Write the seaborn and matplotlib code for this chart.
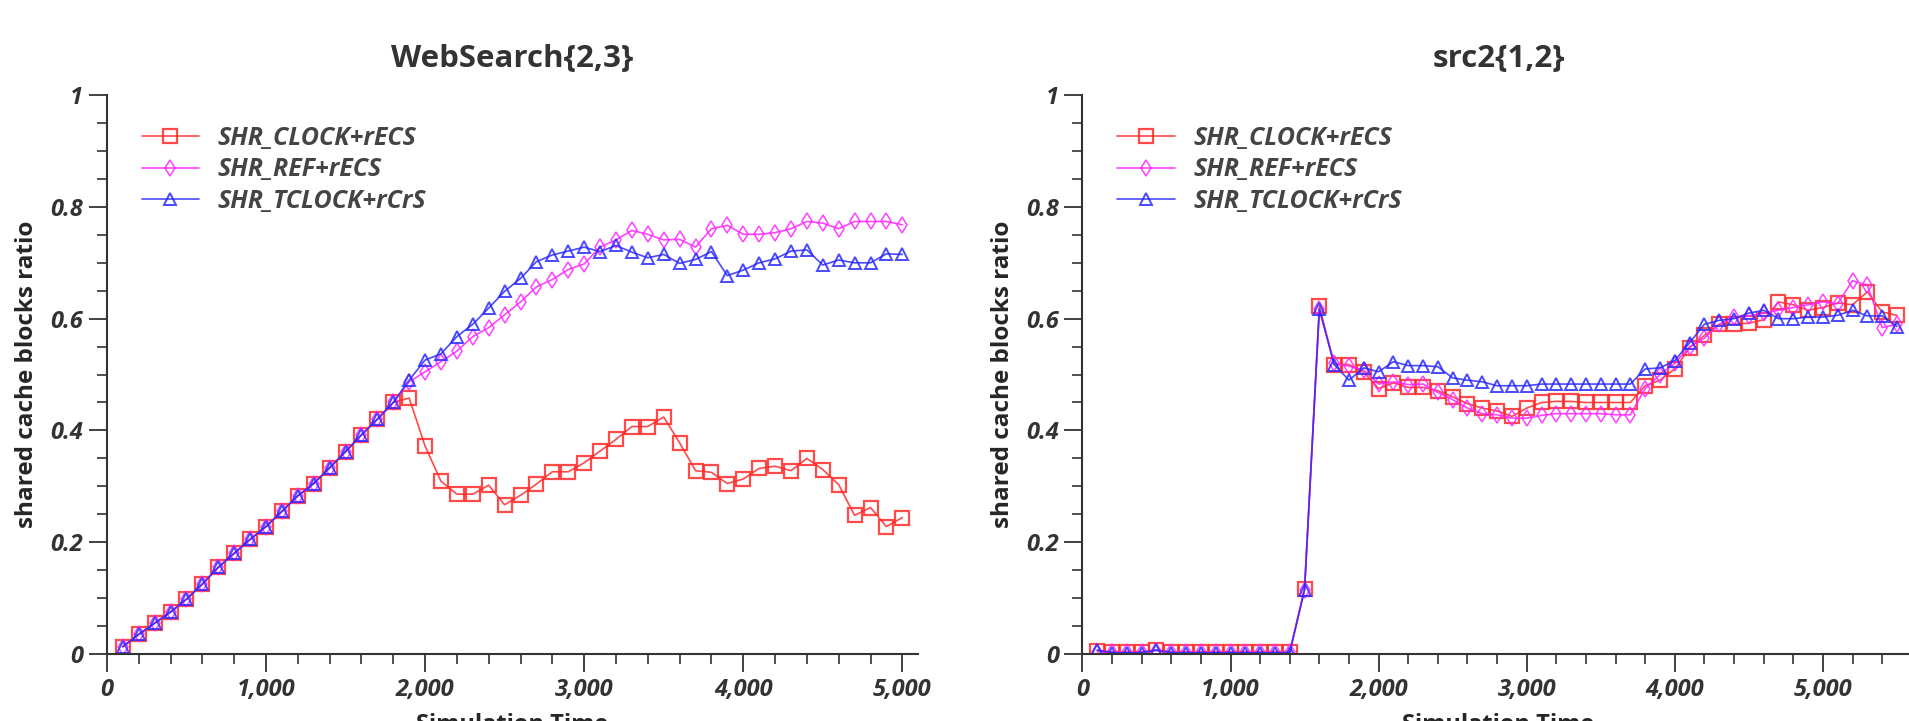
import numpy as np
import pandas as pd
import matplotlib
matplotlib.use("Agg")
import matplotlib.pyplot as plt
import seaborn as sns
from matplotlib.ticker import MultipleLocator, FuncFormatter

# ---- data -------------------------------------------------------------
t_web = list(range(100, 5100, 100))
ramp = [0.013, 0.035, 0.055, 0.075, 0.098, 0.125, 0.155, 0.180, 0.205,
        0.228, 0.255, 0.283, 0.305, 0.333, 0.362, 0.392, 0.420, 0.450]

web_clock = ramp + [0.458, 0.372, 0.309, 0.286, 0.286, 0.302, 0.267, 0.284,
                    0.304, 0.326, 0.326, 0.342, 0.363, 0.384, 0.407, 0.407,
                    0.424, 0.378, 0.328, 0.325, 0.305, 0.313, 0.332, 0.336,
                    0.328, 0.350, 0.330, 0.303, 0.248, 0.262, 0.228, 0.244]
web_ref = ramp + [0.487, 0.505, 0.523, 0.542, 0.568, 0.584, 0.607, 0.630,
                  0.657, 0.670, 0.688, 0.698, 0.728, 0.741, 0.758, 0.751,
                  0.741, 0.742, 0.728, 0.761, 0.767, 0.751, 0.751, 0.754,
                  0.761, 0.774, 0.771, 0.761, 0.774, 0.774, 0.774, 0.768]
web_tclock = ramp + [0.490, 0.526, 0.537, 0.568, 0.590, 0.619, 0.649, 0.672,
                     0.702, 0.714, 0.721, 0.728, 0.720, 0.731, 0.719, 0.709,
                     0.715, 0.699, 0.706, 0.720, 0.677, 0.687, 0.700, 0.707,
                     0.721, 0.723, 0.696, 0.705, 0.700, 0.700, 0.716, 0.715]

t_src = list(range(100, 5600, 100))
src_clock = [0.006, 0.004, 0.004, 0.004, 0.007, 0.004, 0.004, 0.004, 0.004,
             0.004, 0.004, 0.004, 0.004, 0.004, 0.117, 0.622, 0.518, 0.518,
             0.504, 0.475, 0.485, 0.477, 0.477, 0.471, 0.460, 0.448, 0.440,
             0.435, 0.425, 0.440, 0.450, 0.452, 0.452, 0.450, 0.450, 0.450,
             0.450, 0.480, 0.490, 0.510, 0.548, 0.570, 0.590, 0.590, 0.592,
             0.598, 0.630, 0.625, 0.615, 0.620, 0.628, 0.625, 0.648, 0.612,
             0.606]
src_ref = [0.004, 0.003, 0.003, 0.003, 0.006, 0.003, 0.003, 0.003, 0.003,
           0.003, 0.003, 0.003, 0.003, 0.003, 0.115, 0.617, 0.520, 0.515,
           0.508, 0.483, 0.487, 0.482, 0.483, 0.468, 0.455, 0.440, 0.430,
           0.428, 0.422, 0.422, 0.427, 0.430, 0.430, 0.430, 0.430, 0.428,
           0.428, 0.475, 0.500, 0.520, 0.550, 0.565, 0.590, 0.603, 0.605,
           0.610, 0.615, 0.620, 0.625, 0.630, 0.627, 0.668, 0.660, 0.584,
           0.590]
src_tclock = [0.007, 0.002, 0.002, 0.002, 0.007, 0.002, 0.002, 0.002, 0.002,
              0.002, 0.002, 0.002, 0.002, 0.002, 0.115, 0.617, 0.518, 0.490,
              0.512, 0.505, 0.523, 0.516, 0.516, 0.514, 0.494, 0.490, 0.487,
              0.480, 0.480, 0.480, 0.483, 0.483, 0.483, 0.483, 0.483, 0.483,
              0.483, 0.510, 0.512, 0.525, 0.557, 0.590, 0.597, 0.600, 0.610,
              0.615, 0.600, 0.600, 0.603, 0.603, 0.606, 0.615, 0.605, 0.605,
              0.586]

names = ["SHR_CLOCK+rECS", "SHR_REF+rECS", "SHR_TCLOCK+rCrS"]
panels = [("WebSearch{2,3}", t_web, [web_clock, web_ref, web_tclock], 5100),
          ("src2{1,2}", t_src, [src_clock, src_ref, src_tclock], 5620)]

# ---- style ------------------------------------------------------------
sns.set_style("ticks")
plt.rcParams["font.family"] = ["Open Sans", "DejaVu Sans"]
plt.rcParams["axes.edgecolor"] = "#333333"
plt.rcParams["axes.linewidth"] = 1.5

styles = [dict(color="#ff2a2a", marker="s", markersize=10.5, mew=1.6),
          dict(color="#ff22ff", marker="d", markersize=8, mew=1.1),
          dict(color="#2a2aff", marker="^", markersize=8, mew=1.4)]

fig = plt.figure(figsize=(19.09, 7.21), dpi=100)
ax_pos = [[0.056, 0.093, 0.425, 0.775], [0.567, 0.093, 0.436, 0.775]]

for pos, (title, t, series, xmax) in zip(ax_pos, panels):
    ax = fig.add_axes(pos)
    for name, vals, st in zip(names, series, styles):
        df = pd.DataFrame({"time": t, "ratio": vals})
        sns.lineplot(data=df, x="time", y="ratio", ax=ax, label=name,
                     color=st["color"], marker=st["marker"],
                     markersize=st["markersize"], markerfacecolor="none",
                     markeredgecolor=st["color"], markeredgewidth=st["mew"],
                     linewidth=1.2, alpha=0.85)
    ax.set_xlim(0, xmax)
    ax.set_ylim(0, 1)
    ax.xaxis.set_major_locator(MultipleLocator(1000))
    ax.xaxis.set_minor_locator(MultipleLocator(200))
    ax.yaxis.set_major_locator(MultipleLocator(0.2))
    ax.yaxis.set_minor_locator(MultipleLocator(0.05))
    ax.xaxis.set_major_formatter(FuncFormatter(lambda v, p: f"{v:,.0f}"))
    ax.yaxis.set_major_formatter(FuncFormatter(lambda v, p: f"{v:g}"))
    ax.tick_params(which="major", length=13, width=1.3, color="#333333",
                   labelsize=17, labelcolor="#333333", pad=4)
    ax.tick_params(which="minor", length=7.5, width=1.2, color="#333333")
    for lab in ax.get_xticklabels() + ax.get_yticklabels():
        lab.set_fontweight("bold")
        lab.set_fontstyle("italic")
    sns.despine(ax=ax)
    ax.set_title(title, fontsize=22.5, fontweight="bold", color="#333333", pad=20)
    ax.set_xlabel("Simulation Time", fontsize=17, fontweight="bold", labelpad=8)
    ax.set_ylabel("shared cache blocks ratio", fontsize=17.5, fontweight="bold",
                  labelpad=8)
    leg = ax.legend(loc="upper left", bbox_to_anchor=(0.015, 0.985),
                    frameon=False, handlelength=2.3, handletextpad=0.75,
                    labelspacing=0.25,
                    prop=dict(size=18, weight="bold", style="italic"))
    for txt in leg.get_texts():
        txt.set_color("#444444")

fig.savefig("out.png", dpi=100)
